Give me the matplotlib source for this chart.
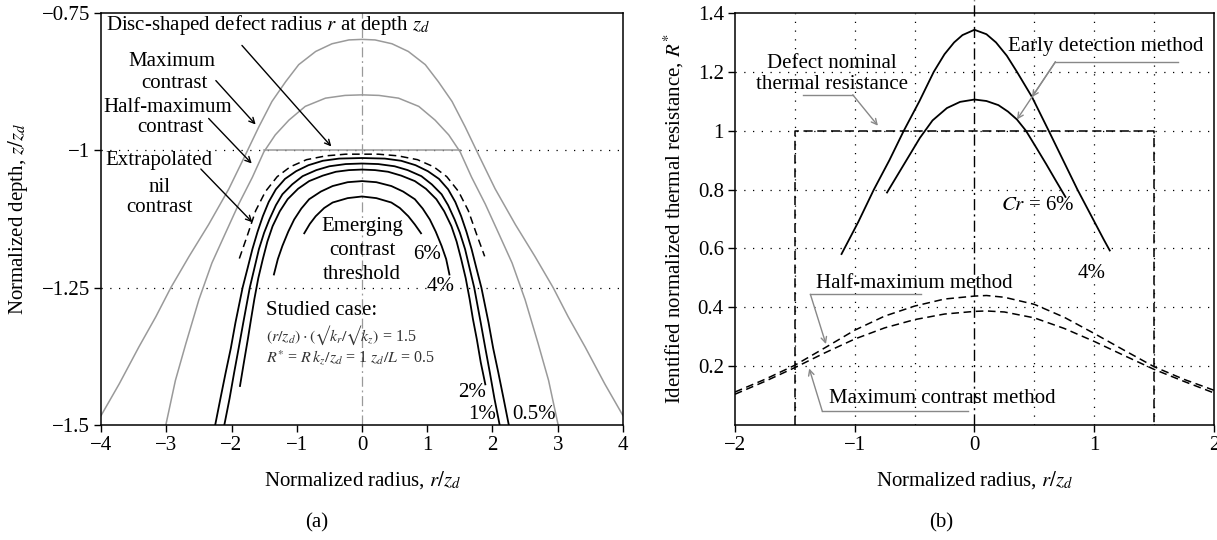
import matplotlib
matplotlib.use("Agg")
import matplotlib.pyplot as plt

plt.rcParams["font.family"] = ["Liberation Serif", "DejaVu Serif"]
plt.rcParams["mathtext.fontset"] = "stix"

# ---- panel (a): contour lines in the (r/zd, z/zd) plane ----
max_con_x = [-4.0, -3.72, -3.42, -3.16, -2.93, -2.65, -2.35, -2.04, -1.79, -1.58, -1.38, -1.17, -0.97,
             -0.71, -0.46, -0.20, 0.0, 0.20, 0.46, 0.71, 0.97, 1.17, 1.38, 1.58, 1.79, 2.04, 2.35,
             2.65, 2.93, 3.16, 3.42, 3.72, 4.0]
max_con_z = [-1.483, -1.425, -1.358, -1.303, -1.25, -1.193, -1.135, -1.07, -1.009, -0.957, -0.911, -0.875,
             -0.844, -0.82, -0.806, -0.799, -0.798, -0.799, -0.806, -0.82, -0.844, -0.875, -0.911, -0.957,
             -1.009, -1.07, -1.135, -1.193, -1.25, -1.303, -1.358, -1.425, -1.483]

half_con_x = [-3.01, -2.86, -2.70, -2.50, -2.30, -2.09, -1.89, -1.68, -1.505, -1.33, -1.12, -0.87, -0.56,
              -0.26, 0.0, 0.26, 0.56, 0.87, 1.12, 1.33, 1.505, 1.68, 1.89, 2.09, 2.30, 2.50, 2.70, 2.86, 3.01]
half_con_z = [-1.502, -1.419, -1.352, -1.272, -1.205, -1.15, -1.098, -1.049, -1.003, -0.972, -0.945, -0.92,
              -0.905, -0.90, -0.899, -0.90, -0.905, -0.92, -0.945, -0.972, -1.003, -1.049, -1.098, -1.15,
              -1.205, -1.272, -1.352, -1.419, -1.502]

disc_x = [-1.5, 1.5]
disc_z = [-1.0, -1.0]

nil_x = [-1.88, -1.76, -1.63, -1.48, -1.30, -1.10, -0.85, -0.55, -0.25, 0.0,
         0.25, 0.55, 0.85, 1.10, 1.30, 1.48, 1.63, 1.76, 1.88]
nil_z = [-1.197, -1.156, -1.11, -1.075, -1.048, -1.03, -1.017, -1.01, -1.007, -1.007,
         -1.007, -1.01, -1.017, -1.03, -1.048, -1.075, -1.11, -1.154, -1.193]

c05_x = [-2.25, -2.17, -2.09, -2.01, -1.94, -1.83, -1.75, -1.68, -1.60, -1.52, -1.43, -1.32, -1.18,
         -1.01, -0.82, -0.60, -0.35, 0.0, 0.35, 0.60, 0.82, 1.01, 1.18, 1.32, 1.43, 1.52, 1.60, 1.68,
         1.75, 1.83, 1.94, 2.01, 2.09, 2.17, 2.25]
c05_z = [-1.5, -1.452, -1.405, -1.36, -1.314, -1.25, -1.213, -1.18, -1.148, -1.12, -1.094, -1.071,
         -1.052, -1.038, -1.027, -1.019, -1.015, -1.014, -1.015, -1.019, -1.027, -1.038, -1.052, -1.071,
         -1.094, -1.12, -1.148, -1.18, -1.213, -1.25, -1.314, -1.36, -1.405, -1.452, -1.5]

c1_x = [-2.11, -2.03, -1.96, -1.89, -1.82, -1.72, -1.65, -1.58, -1.50, -1.42, -1.32, -1.22, -1.07,
        -0.91, -0.70, -0.50, -0.25, 0.0, 0.25, 0.50, 0.70, 0.91, 1.07, 1.22, 1.32, 1.42, 1.50, 1.58,
        1.65, 1.72, 1.82, 1.89, 1.96, 2.03, 2.11]
c1_z = [-1.5, -1.452, -1.405, -1.36, -1.314, -1.25, -1.215, -1.18, -1.15, -1.126, -1.10, -1.08,
        -1.062, -1.047, -1.036, -1.029, -1.025, -1.024, -1.025, -1.029, -1.036, -1.047, -1.062, -1.08,
        -1.10, -1.126, -1.15, -1.18, -1.215, -1.25, -1.314, -1.36, -1.405, -1.452, -1.5]

c2_x = [-1.87, -1.81, -1.75, -1.70, -1.65, -1.59, -1.52, -1.45, -1.37, -1.26, -1.14, -0.98, -0.81,
        -0.60, -0.40, -0.20, 0.0, 0.20, 0.40, 0.60, 0.81, 0.98, 1.14, 1.26, 1.37, 1.45, 1.52, 1.59,
        1.65, 1.70, 1.76, 1.82, 1.89]
c2_z = [-1.429, -1.386, -1.344, -1.307, -1.271, -1.233, -1.198, -1.166, -1.138, -1.111, -1.089, -1.07,
        -1.056, -1.046, -1.039, -1.036, -1.035, -1.036, -1.039, -1.046, -1.056, -1.07, -1.089, -1.111,
        -1.138, -1.166, -1.198, -1.233, -1.271, -1.307, -1.344, -1.386, -1.426]

c4_x = [-1.35, -1.29, -1.22, -1.13, -1.04, -0.93, -0.81, -0.63, -0.45, -0.22, 0.0,
        0.22, 0.45, 0.63, 0.81, 0.93, 1.04, 1.13, 1.22, 1.29, 1.34]
c4_z = [-1.226, -1.198, -1.174, -1.148, -1.126, -1.106, -1.089, -1.075, -1.065, -1.058, -1.056,
        -1.058, -1.065, -1.075, -1.089, -1.106, -1.126, -1.148, -1.174, -1.198, -1.226]

c6_x = [-0.885, -0.80, -0.71, -0.58, -0.45, -0.22, 0.0, 0.22, 0.45, 0.58, 0.71, 0.81, 0.905]
c6_z = [-1.151, -1.134, -1.12, -1.105, -1.095, -1.087, -1.084, -1.087, -1.095, -1.105, -1.12, -1.135, -1.151]

# ---- panel (b): identified normalized thermal resistance ----
early4_x = [-1.11, -0.97, -0.84, -0.71, -0.59, -0.46, -0.34, -0.25, -0.17, -0.10, 0.0, 0.10, 0.18,
            0.27, 0.355, 0.48, 0.62, 0.74, 0.86, 0.97, 1.08, 1.13]
early4_r = [0.581, 0.69, 0.80, 0.90, 1.0, 1.10, 1.2, 1.26, 1.30, 1.325, 1.343, 1.328, 1.30,
            1.255, 1.2, 1.115, 1.0, 0.90, 0.80, 0.715, 0.63, 0.593]

early6_x = [-0.73, -0.60, -0.455, -0.35, -0.23, -0.12, 0.0, 0.10, 0.20, 0.28, 0.355, 0.43, 0.52,
            0.60, 0.68, 0.76]
early6_r = [0.79, 0.878, 0.976, 1.035, 1.077, 1.098, 1.106, 1.101, 1.087, 1.065, 1.038, 1.0, 0.94,
            0.886, 0.83, 0.775]

halfmax_x = [-2.0, -1.75, -1.5, -1.25, -1.0, -0.75, -0.5, -0.25, 0.0, 0.1, 0.25, 0.5, 0.75, 1.0,
             1.25, 1.5, 1.75, 2.0]
halfmax_r = [0.112, 0.155, 0.203, 0.262, 0.322, 0.37, 0.404, 0.428, 0.438, 0.44, 0.434, 0.41, 0.366,
             0.311, 0.254, 0.198, 0.155, 0.118]

maxcon_x = [-2.0, -1.75, -1.5, -1.25, -1.0, -0.75, -0.5, -0.25, 0.0, 0.1, 0.25, 0.5, 0.75, 1.0,
            1.25, 1.5, 1.75, 2.0]
maxcon_r = [0.1045, 0.148, 0.195, 0.245, 0.292, 0.33, 0.358, 0.377, 0.386, 0.3875, 0.384, 0.364, 0.328,
            0.284, 0.236, 0.189, 0.148, 0.109]

nominal_x = [-1.5, -1.5, 1.5, 1.5]
nominal_r = [0.0, 1.0, 1.0, 0.0]

a_xticks = [-4, -3, -2, -1, 0, 1, 2, 3, 4]
a_yticks = [-1.5, -1.25, -1.0, -0.75]
a_ylabels = ["\u22121.5", "\u22121.25", "\u22121", "\u22120.75"]
b_xticks = [-2, -1, 0, 1, 2]
b_yticks = [0.2, 0.4, 0.6, 0.8, 1.0, 1.2, 1.4]
b_ylabels = ["0.2", "0.4", "0.6", "0.8", "1", "1.2", "1.4"]

FS = 15
GRAY = "#9a9a9a"
DOT = (0, (1.0, 6.0))


def style_axes(ax):
    for sp in ax.spines.values():
        sp.set_linewidth(1.1)
    ax.tick_params(direction="out", length=5, width=1.0, labelsize=FS, pad=3)


fig = plt.figure(figsize=(12.17, 5.40), dpi=100)
ax_a = fig.add_axes([0.0830, 0.2130, 0.4289, 0.7629])
ax_b = fig.add_axes([0.6039, 0.2130, 0.3936, 0.7629])

# ---------------- (a) ----------------
ax = ax_a
for yv in [-1.0, -1.25]:
    ax.axhline(yv, color="black", lw=0.9, linestyle=DOT, zorder=1)
ax.plot([0, 0], [-1.5, -0.75], color=GRAY, lw=0.9, linestyle=(0, (8, 3, 1.5, 3)), zorder=1)

ax.plot(max_con_x, max_con_z, color=GRAY, lw=1.1)
ax.plot(half_con_x, half_con_z, color=GRAY, lw=1.1)
ax.plot(disc_x, disc_z, color=GRAY, lw=1.1)
ax.plot(nil_x, nil_z, color="black", lw=1.1, linestyle=(0, (5, 3)))
for xs, zs in [(c05_x, c05_z), (c1_x, c1_z), (c2_x, c2_z), (c4_x, c4_z), (c6_x, c6_z)]:
    ax.plot(xs, zs, color="black", lw=1.3)

ax.set_xlim(-4, 4)
ax.set_ylim(-1.5, -0.75)
ax.set_xticks(a_xticks)
ax.set_xticklabels([str(v).replace("-", "\u2212") for v in a_xticks])
ax.set_yticks(a_yticks)
ax.set_yticklabels(a_ylabels)
style_axes(ax)
ax.set_xlabel("Normalized radius, $r/z_d$", fontsize=FS)
ax.set_ylabel("Normalized depth, $z/z_d$", fontsize=FS)
ax.xaxis.set_label_coords(0.5, -0.108)
ax.yaxis.set_label_coords(-0.136, 0.5)

arrow_k = dict(arrowstyle="->", color="black", lw=1.0, shrinkA=0, shrinkB=0)
ax.text(-3.93, -0.771, "Disc-shaped defect radius $r$ at depth $z_d$", fontsize=FS, va="center", ha="left")
ax.annotate("", xy=(-0.47, -0.993), xytext=(-1.84, -0.809), arrowprops=arrow_k)
ax.text(-2.92, -0.838, "Maximum", fontsize=FS, ha="center", va="center")
ax.text(-2.88, -0.878, "contrast", fontsize=FS, ha="center", va="center")
ax.annotate("", xy=(-1.63, -0.953), xytext=(-2.24, -0.873), arrowprops=arrow_k)
ax.text(-2.98, -0.922, "Half-maximum", fontsize=FS, ha="center", va="center")
ax.text(-2.93, -0.958, "contrast", fontsize=FS, ha="center", va="center")
ax.annotate("", xy=(-1.69, -1.024), xytext=(-2.35, -0.942), arrowprops=arrow_k)
ax.text(-3.11, -1.018, "Extrapolated", fontsize=FS, ha="center", va="center")
ax.text(-3.11, -1.067, "nil", fontsize=FS, ha="center", va="center")
ax.text(-3.11, -1.104, "contrast", fontsize=FS, ha="center", va="center")
ax.annotate("", xy=(-1.68, -1.131), xytext=(-2.47, -1.034), arrowprops=arrow_k)

ax.text(0.0, -1.139, "Emerging", fontsize=FS, ha="center", va="center")
ax.text(0.0, -1.183, "contrast", fontsize=FS, ha="center", va="center")
ax.text(0.0, -1.226, "threshold", fontsize=FS, ha="center", va="center")
ax.text(1.0, -1.189, "6%", fontsize=FS, ha="center", va="center")
ax.text(1.21, -1.247, "4%", fontsize=FS, ha="center", va="center")
ax.text(1.69, -1.441, "2%", fontsize=FS, ha="center", va="center")
ax.text(1.84, -1.481, "1%", fontsize=FS, ha="center", va="center")
ax.text(2.31, -1.481, "0.5%", fontsize=FS, ha="left", va="center")
ax.text(-1.47, -1.291, "Studied case:", fontsize=FS, ha="left", va="center")
ax.text(-1.47, -1.336, "$(r/z_d)\\cdot(\u221ak_r/\u221ak_z)$ = 1.5",
        fontsize=11.5, ha="left", va="center", color="#333333")
ax.text(-1.47, -1.378, "$R^{*}$ = $R\\,k_z/z_d$ = 1 $z_d/L$ = 0.5",
        fontsize=11.5, ha="left", va="center", color="#333333")

# ---------------- (b) ----------------
ax = ax_b
for yv in [0.2, 0.4, 0.6, 0.8, 1.0, 1.2]:
    ax.axhline(yv, color="black", lw=0.9, linestyle=DOT, zorder=1)
for xv in [-1.5, -1.0, -0.5, 0.5, 1.0, 1.5]:
    ax.axvline(xv, color="black", lw=0.9, linestyle=DOT, zorder=1)
ax.plot([0, 0], [0, 1.445], color="black", lw=1.0, linestyle=(0, (8, 3, 1.5, 3)), clip_on=False, zorder=2)

ax.plot(nominal_x, nominal_r, color="black", lw=1.1, linestyle=(0, (6, 3)))
ax.plot(early4_x, early4_r, color="black", lw=1.3)
ax.plot(early6_x, early6_r, color="black", lw=1.3)
ax.plot(halfmax_x, halfmax_r, color="black", lw=1.1, linestyle=(0, (5, 3)))
ax.plot(maxcon_x, maxcon_r, color="black", lw=1.1, linestyle=(0, (5, 3)))

ax.set_xlim(-2, 2)
ax.set_ylim(0, 1.4)
ax.set_xticks(b_xticks)
ax.set_xticklabels([str(v).replace("-", "\u2212") for v in b_xticks])
ax.set_yticks(b_yticks)
ax.set_yticklabels(b_ylabels)
style_axes(ax)
ax.set_xlabel("Normalized radius, $r/z_d$", fontsize=FS)
ax.set_ylabel("Identified normalized thermal resistance, $R^{*}$", fontsize=FS)
ax.xaxis.set_label_coords(0.5, -0.108)
ax.yaxis.set_label_coords(-0.102, 0.5)

GA = "#888888"
arrow_g = dict(arrowstyle="->", color=GA, lw=1.0, shrinkA=0, shrinkB=0)
ax.text(-1.19, 1.23, "Defect nominal", fontsize=FS, ha="center", va="center")
ax.text(-1.19, 1.156, "thermal resistance", fontsize=FS, ha="center", va="center")
ax.plot([-1.435, -1.016], [1.122, 1.122], color=GA, lw=1.0)
ax.annotate("", xy=(-0.806, 1.017), xytext=(-1.016, 1.122), arrowprops=arrow_g)

ax.text(1.10, 1.287, "Early detection method", fontsize=FS, ha="center", va="center")
ax.plot([0.676, 1.70], [1.234, 1.234], color=GA, lw=1.0)
ax.annotate("", xy=(0.355, 1.038), xytext=(0.676, 1.234), arrowprops=arrow_g)
ax.annotate("", xy=(0.48, 1.114), xytext=(0.676, 1.234), arrowprops=arrow_g)

ax.text(0.53, 0.747, "$Cr$ = 6%", fontsize=FS, ha="center", va="center")
ax.text(0.98, 0.514, "4%", fontsize=FS, ha="center", va="center")

ax.text(-0.5, 0.482, "Half-maximum method", fontsize=FS, ha="center", va="center")
ax.plot([-0.45, -1.37], [0.444, 0.444], color=GA, lw=1.0)
ax.annotate("", xy=(-1.24, 0.275), xytext=(-1.37, 0.444), arrowprops=arrow_g)

ax.text(-0.27, 0.09, "Maximum contrast method", fontsize=FS, ha="center", va="center")
ax.plot([-0.05, -1.27], [0.046, 0.046], color=GA, lw=1.0)
ax.annotate("", xy=(-1.38, 0.192), xytext=(-1.27, 0.046), arrowprops=arrow_g)

fig.text(317 / 1217, 0.031, "(a)", fontsize=FS, ha="center", va="center")
fig.text(941 / 1217, 0.031, "(b)", fontsize=FS, ha="center", va="center")

fig.savefig("out.png", dpi=100)
